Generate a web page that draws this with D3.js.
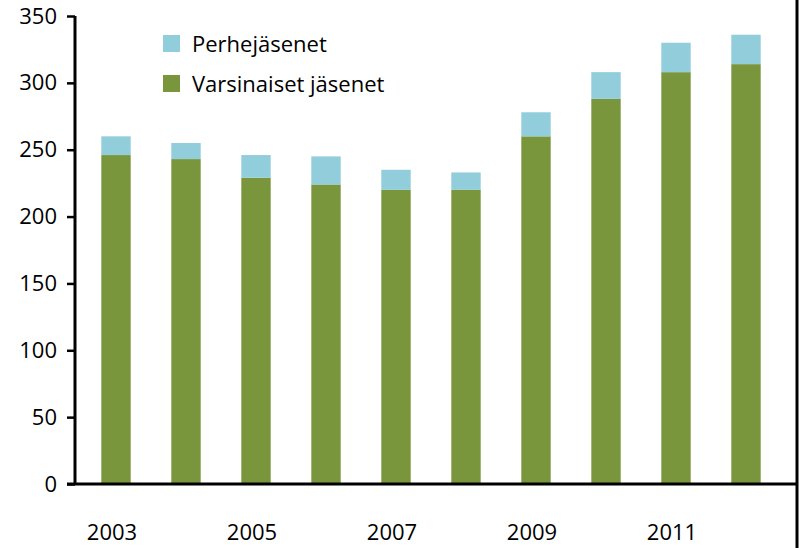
<!DOCTYPE html><html><head><meta charset="utf-8"><script src="https://cdn.jsdelivr.net/npm/d3@7"></script>
<style>body{margin:0;background:#fff}</style></head><body><svg id="c" width="800" height="548"></svg>
<script>
const years=["2003","2004","2005","2006","2007","2008","2009","2010","2011","2012"];
const varsinaiset=[246,243,229,224,220,220,260,288,308,314];
const perhe=[14,12,17,21,15,13,18,20,22,22];
const yTicks=[0,50,100,150,200,250,300,350];
const xLabels=["2003","2005","2007","2009","2011"];
const names=["Perhejäsenet","Varsinaiset jäsenet"];
const cBlue="#92CDDC",cGreen="#7A963C";
const svg=d3.select("#c"),F="'Open Sans',sans-serif";
const x=d3.scaleBand().domain(years).range([81,781]).paddingInner(0.58).paddingOuter(0.29);
const y=d3.scaleLinear().domain([0,350]).range([484,16]);
const g=svg.append("g");
years.forEach((yr,i)=>{
 g.append("rect").attr("x",x(yr)).attr("width",x.bandwidth()).attr("y",y(varsinaiset[i])).attr("height",y(0)-y(varsinaiset[i])).attr("fill",cGreen);
 g.append("rect").attr("x",x(yr)).attr("width",x.bandwidth()).attr("y",y(varsinaiset[i]+perhe[i])).attr("height",y(varsinaiset[i])-y(varsinaiset[i]+perhe[i])).attr("fill",cBlue);
});
const ya=svg.append("g").attr("transform","translate(75,0)").call(d3.axisLeft(y).tickValues(yTicks).tickSize(8).tickPadding(10));
ya.select(".domain").attr("stroke","#000").attr("stroke-width",3).attr("d","M0,16V484");
ya.selectAll(".tick line").attr("stroke","#000").attr("stroke-width",2.5);
ya.selectAll("text").attr("font-family",F).attr("font-size",22).attr("fill","#000");
svg.append("line").attr("x1",67).attr("x2",797).attr("y1",484).attr("y2",484).attr("stroke","#000").attr("stroke-width",3);
svg.append("line").attr("x1",797).attr("x2",797).attr("y1",0).attr("y2",548).attr("stroke","#000").attr("stroke-width",3);
xLabels.forEach(l=>svg.append("text").attr("x",x(l)+x.bandwidth()/2-4).attr("y",540).attr("text-anchor","middle").attr("font-family",F).attr("font-size",22).text(l));
[[cBlue,names[0],35],[cGreen,names[1],75]].forEach(([c,t,yy])=>{
 svg.append("rect").attr("x",163).attr("y",yy).attr("width",17).attr("height",17).attr("fill",c);
 svg.append("text").attr("x",192).attr("y",yy+17).attr("font-family",F).attr("font-size",22).text(t);
});
</script></body></html>
